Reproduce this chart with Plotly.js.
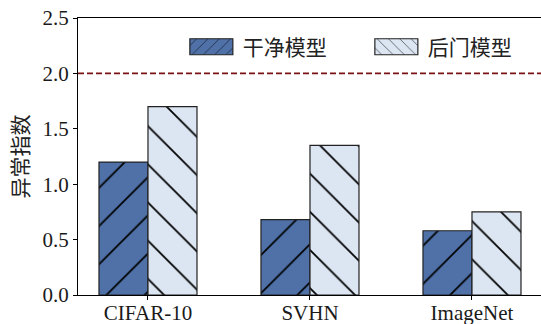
<!DOCTYPE html>
<html>
<head>
<meta charset="utf-8">
<script src="https://cdn.plot.ly/plotly-3.0.1.min.js"></script>
<style>
  html, body { margin: 0; padding: 0; background: #fff; overflow: hidden; }
  #chart { width: 541px; height: 324px; }
</style>
</head>
<body>
<div id="chart"></div>
<script>
// Anomaly index per dataset, clean vs. backdoored model
const datasets = ['CIFAR-10', 'SVHN', 'ImageNet'];
const cleanScores = [1.20, 0.68, 0.58];
const backdoorScores = [1.70, 1.35, 0.75];
const seriesNames = ['干净模型', '后门模型'];
const threshold = 2.0;
const yTicks = [0, 0.5, 1.0, 1.5, 2.0, 2.5];

const serif = '"Liberation Serif", "Times New Roman", serif';
const cjk = '"Noto Sans CJK SC", "Noto Sans", sans-serif';

const traces = [
  {
    type: 'bar',
    name: seriesNames[0],
    x: datasets,
    y: cleanScores,
    legendwidth: 117,
    marker: {
      color: '#4f71a8',
      line: { color: '#222', width: 1.2 },
      pattern: { shape: '/', size: 27, solidity: 0.065, fgcolor: '#000', fgopacity: 1, bgcolor: '#4f71a8', fillmode: 'overlay' }
    },
    hoverinfo: 'skip'
  },
  {
    type: 'bar',
    name: seriesNames[1],
    x: datasets,
    y: backdoorScores,
    legendwidth: 90,
    marker: {
      color: '#dce6f2',
      line: { color: '#222', width: 1.2 },
      pattern: { shape: '\\', size: 27, solidity: 0.065, fgcolor: '#000', fgopacity: 1, bgcolor: '#dce6f2', fillmode: 'overlay' }
    },
    hoverinfo: 'skip'
  }
];

const layout = {
  width: 541,
  height: 324,
  margin: { l: 78, r: 0, t: 18, b: 29 },
  paper_bgcolor: '#fff',
  plot_bgcolor: '#fff',
  barmode: 'group',
  bargap: 0.395,
  bargroupgap: 0,
  showlegend: true,
  legend: {
    orientation: 'h',
    x: 0.22,
    xanchor: 'left',
    y: 0.895,
    yanchor: 'middle',
    font: { family: cjk, size: 21, color: '#222' },
    itemwidth: 53,
    entrywidthmode: 'pixels',
    bgcolor: 'rgba(0,0,0,0)',
    traceorder: 'normal'
  },
  xaxis: {
    type: 'category',
    range: [-0.432, 2.426],
    showline: true,
    linecolor: '#000',
    linewidth: 1,
    mirror: true,
    ticks: 'outside',
    ticklen: 4,
    tickcolor: '#000',
    ticklabelstandoff: -5,
    showgrid: false,
    zeroline: false,
    tickfont: { family: serif, size: 21, color: '#1a1a1a' }
  },
  yaxis: {
    range: [0, 2.5],
    tickvals: yTicks,
    tickformat: '.1f',
    showline: true,
    linecolor: '#000',
    linewidth: 1,
    ticks: 'outside',
    ticklen: 4,
    tickcolor: '#000',
    showgrid: false,
    zeroline: false,
    tickfont: { family: serif, size: 21, color: '#1a1a1a' },
    title: { text: '异常指数', font: { family: cjk, size: 21, color: '#222' }, standoff: 8 }
  },
  shapes: [
    {
      type: 'line',
      xref: 'paper', x0: 0, x1: 1,
      yref: 'y', y0: threshold, y1: threshold,
      line: { color: '#7a1214', width: 1.6, dash: '6px,3px' }
    }
  ]
};

Plotly.newPlot('chart', traces, layout, { staticPlot: true, displayModeBar: false }).then(function (gd) {
  // widen the legend swatches into flat rectangles
  gd.querySelectorAll('.legend .legendpoints path').forEach(function (p) {
    p.setAttribute('d', 'M21.5,8H-21.5V-8H21.5Z');
  });
});
</script>
</body>
</html>
